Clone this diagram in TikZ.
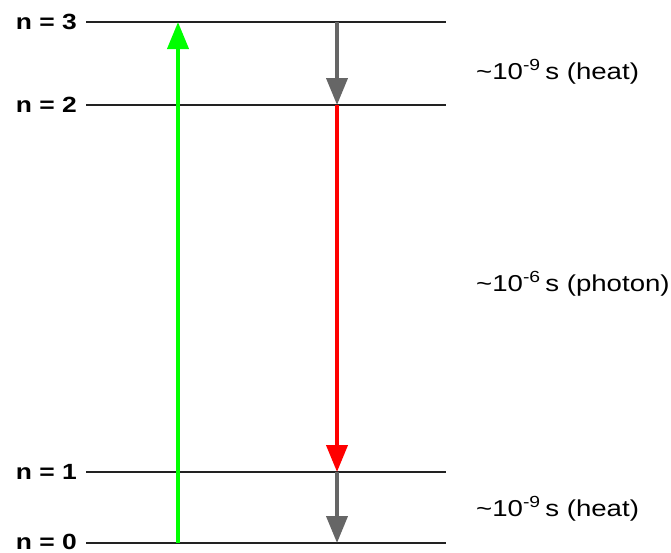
\documentclass[tikz,border=0pt]{standalone}
\usepackage{fontspec}
\setmainfont{Liberation Sans}
\usepackage{graphicx}
\usepackage{tikz}
\usetikzlibrary{arrows.meta}
\definecolor{pumpgreen}{HTML}{00FF00}
\definecolor{photonred}{HTML}{FF0000}
\definecolor{heatgrey}{HTML}{666666}
\definecolor{levelgrey}{HTML}{222222}
\newcommand{\wide}[1]{\scalebox{1.2}[1]{#1}}

\begin{document}
\begin{tikzpicture}[
  x=1pt, y=-1pt,
  level/.style={line width=2.8pt, levelgrey},
  lvlabel/.style={font=\bfseries\fontsize{22}{26}\selectfont, anchor=east, inner sep=0pt},
  note/.style={font=\fontsize{23}{27}\selectfont, anchor=west, inner sep=0pt},
  trans/.style={-{Triangle[length=27pt, width=21pt]}, line width=4pt},
  pump/.style={trans, pumpgreen},
  heat/.style={trans, heatgrey},
  photon/.style={trans, photonred}
]
\useasboundingbox (0,0) rectangle (671,552);
% energy levels
\coordinate (l3) at (86,22);   \coordinate (r3) at (446,22);
\coordinate (l2) at (86,105);  \coordinate (r2) at (446,105);
\coordinate (l1) at (86,472);  \coordinate (r1) at (446,472);
\coordinate (l0) at (86,543);  \coordinate (r0) at (446,543);
\draw[level] (l3) -- (r3);
\draw[level] (l2) -- (r2);
\draw[level] (l1) -- (r1);
\draw[level] (l0) -- (r0);
\node[lvlabel] (n3) at (77,22) {\wide{n = 3}};
\node[lvlabel] (n2) at (77,105) {\wide{n = 2}};
\node[lvlabel] (n1) at (77,472) {\wide{n = 1}};
\node[lvlabel] (n0) at (77,542) {\wide{n = 0}};
% transitions
\coordinate (up0) at (178,543);  \coordinate (up3) at (178,22);
\coordinate (dn3) at (337,22);   \coordinate (dn2) at (337,105);
\coordinate (dn1) at (337,472);  \coordinate (dn0) at (337,543);
\draw[pump] (up0) -- (up3);
\draw[heat] (dn3) -- (dn2);
\draw[photon] (dn2) -- (dn1);
\draw[heat] (dn1) -- (dn0);
% lifetimes
\node[note] (t32) at (476,72) {\wide{\textasciitilde 10\textsuperscript{-9}\,s (heat)}};
\node[note] (t21) at (476,284) {\wide{\textasciitilde 10\textsuperscript{-6}\,s (photon)}};
\node[note] (t10) at (476,509) {\wide{\textasciitilde 10\textsuperscript{-9}\,s (heat)}};
\end{tikzpicture}
\end{document}
